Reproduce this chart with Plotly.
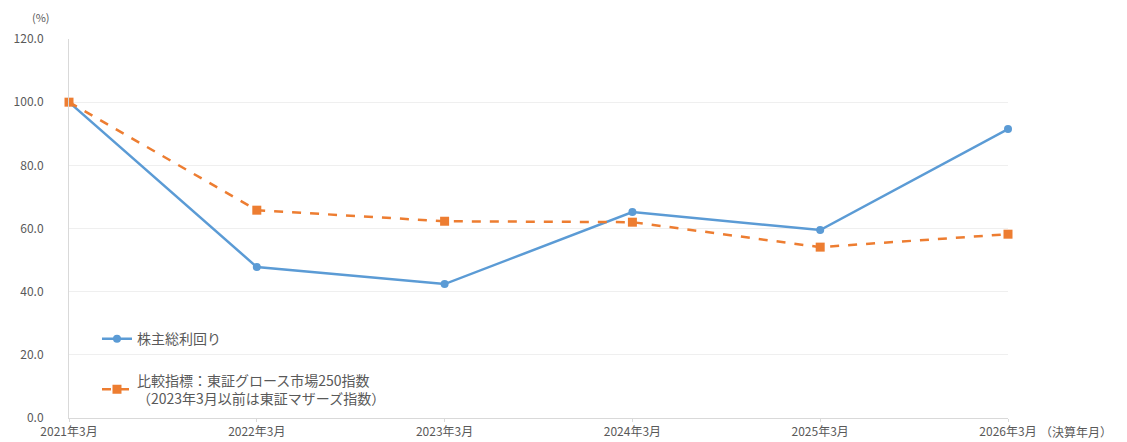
import plotly.graph_objects as go

categories = ["2021年3月", "2022年3月", "2023年3月", "2024年3月", "2025年3月", "2026年3月"]
tsr = [100.0, 47.8, 42.4, 65.2, 59.5, 91.5]
benchmark = [100.0, 65.8, 62.3, 62.0, 54.1, 58.2]
y_ticks = [0, 20, 40, 60, 80, 100, 120]
y_ticklabels = ["0.0", "20.0", "40.0", "60.0", "80.0", "100.0", "120.0"]
name_tsr = "株主総利回り"
name_bm = "比較指標：東証グロース市場250指数<br>（2023年3月以前は東証マザーズ指数）"

FONT = "Noto Sans CJK JP"
x_idx = list(range(len(categories)))

# The page body has an 8px default margin, so the figure is sized/margined to compensate.
fig = go.Figure()
fig.add_trace(go.Scatter(
    x=x_idx, y=tsr, name=name_tsr, mode="lines+markers",
    line=dict(color="#5B9BD5", width=2.5),
    marker=dict(symbol="circle", size=8, color="#5B9BD5"),
    cliponaxis=False, legendgroup="a",
))
fig.add_trace(go.Scatter(
    x=x_idx, y=benchmark, name=name_bm, mode="lines+markers",
    line=dict(color="#ED7D31", width=2.5, dash="dash"),
    marker=dict(symbol="square", size=9, color="#ED7D31"),
    cliponaxis=False, legendgroup="b",
))

fig.update_layout(
    width=1119, height=434,
    margin=dict(l=61, r=119, t=31, b=24),
    paper_bgcolor="white", plot_bgcolor="white",
    font=dict(family=FONT, size=12, color="#595959"),
    showlegend=True,
    legend=dict(
        x=0.0298, y=0.25, xanchor="left", yanchor="top",
        bgcolor="rgba(0,0,0,0)", font=dict(size=14, color="#595959"),
        tracegroupgap=20, itemwidth=30,
    ),
    xaxis=dict(
        range=[0, 5], tickmode="array", tickvals=x_idx, ticktext=categories,
        showgrid=False, zeroline=False, showline=True, linecolor="#d9d9d9",
        ticks="outside", ticklen=3, tickcolor="#d9d9d9",
        tickfont=dict(size=12, color="#595959"), automargin=False,
        ticklabelstandoff=0,
    ),
    yaxis=dict(
        range=[0, 120], tickmode="array", tickvals=y_ticks, ticktext=y_ticklabels,
        showgrid=True, gridcolor="#efefef", zeroline=False,
        showline=True, linecolor="#d9d9d9",
        tickfont=dict(size=12, color="#595959"), ticks="", ticklabelstandoff=22,
        automargin=False,
    ),
    annotations=[
        dict(text="(%)", xref="paper", yref="paper", x=0, xshift=-28, y=1.0, yshift=12,
             showarrow=False, xanchor="center", yanchor="bottom",
             font=dict(size=11, color="#595959")),
        dict(text="（決算年月）", xref="x", yref="paper", x=5, y=0, xshift=30,
             yshift=-3, showarrow=False, xanchor="left", yanchor="top",
             font=dict(size=12, color="#595959")),
    ],
)

fig.write_html("out.html")
